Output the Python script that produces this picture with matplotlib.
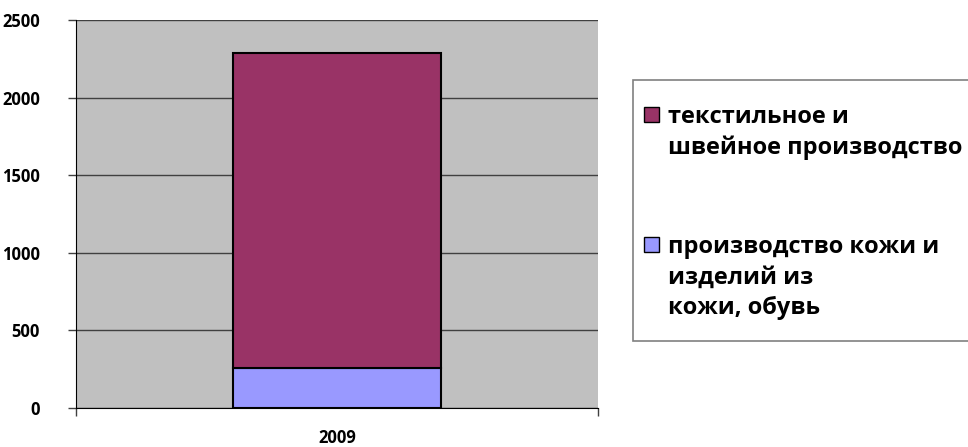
import matplotlib.pyplot as plt
from matplotlib.patches import Rectangle

plt.rcParams["font.family"] = ["Open Sans", "DejaVu Sans"]
plt.rcParams["font.weight"] = "bold"

years = ["2009"]
leather = [260]      # производство кожи и изделий из кожи, обувь
textile = [2030]     # текстильное и швейное производство
y_ticks = [0, 500, 1000, 1500, 2000, 2500]
legend_labels = ["текстильное и\nшвейное производство",
                 "производство кожи и\nизделий из\nкожи, обувь"]
colors = ["#993366", "#9999FF"]

fig = plt.figure(figsize=(9.68, 4.47), dpi=100)
ax = fig.add_axes([76/968, 39/447, 522/968, 388/447])
ax.set_facecolor("#C0C0C0")

x = list(range(len(years)))
ax.bar(x, leather, width=0.4, color=colors[1], edgecolor="black", linewidth=1.5, zorder=3)
ax.bar(x, textile, width=0.4, bottom=leather, color=colors[0], edgecolor="black", linewidth=1.5, zorder=3)

ax.set_xlim(-0.5, 0.5)
ax.set_ylim(0, 2500)
ax.set_yticks(y_ticks)
ax.set_yticklabels([str(v) for v in y_ticks], fontsize=12, fontweight="bold")
ax.yaxis.grid(True, color="#404040", linewidth=1, zorder=1)
ax.set_axisbelow(True)

# category boundaries as tick marks, label in the middle
ax.set_xticks([-0.5, 0.5])
ax.set_xticklabels(["", ""])
ax.set_xticks(x, minor=True)
ax.set_xticklabels(years, minor=True, fontsize=12, fontweight="bold")
ax.tick_params(axis="x", which="minor", length=0, pad=15)
ax.tick_params(axis="both", which="major", length=6, width=1, color="#404040")
ax.tick_params(axis="y", pad=20)

for s in ["top", "right"]:
    ax.spines[s].set_visible(False)
ax.spines["left"].set_color("black")
ax.spines["bottom"].set_color("black")
ax.spines["left"].set_zorder(4)
ax.spines["bottom"].set_zorder(4)

# legend drawn by hand, Excel style
W, H = 968, 447
fig.patches.append(Rectangle((633/W, 1 - 341/H), 340/W, 261/H, transform=fig.transFigure,
                             facecolor="white", edgecolor="#808080", linewidth=1.2))
entries = [(legend_labels[0], colors[0], 107), (legend_labels[1], colors[1], 237)]
for label, col, ytop in entries:
    fig.patches.append(Rectangle((644/W, 1 - (ytop + 15)/H), 15/W, 15/H, transform=fig.transFigure,
                                 facecolor=col, edgecolor="black", linewidth=1))
    fig.text(668/W, 1 - (ytop - 2)/H, label, fontsize=17, fontweight="bold",
             va="top", ha="left", linespacing=1.36)

fig.savefig("out.png", dpi=100)
